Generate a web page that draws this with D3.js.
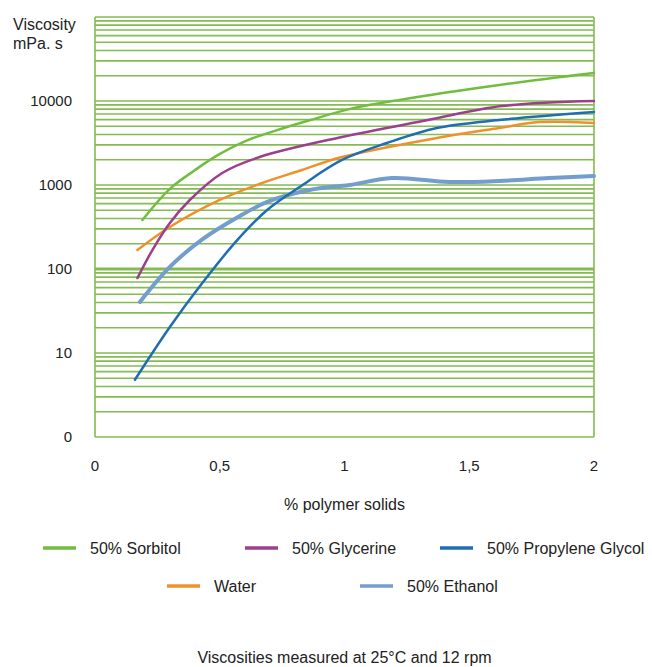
<!DOCTYPE html>
<html>
<head>
<meta charset="utf-8">
<script src="https://cdn.jsdelivr.net/npm/d3@7"></script>
<style>
  html, body { margin: 0; padding: 0; background: #fff; }
  svg { display: block; }
  text { font-family: "Liberation Sans", Arial, sans-serif; fill: #222; }
</style>
</head>
<body>
<svg id="chart" width="652" height="667"></svg>
<script>
// ---- data ----
const seriesNames = ["50% Sorbitol", "50% Glycerine", "50% Propylene Glycol", "Water", "50% Ethanol"];
const seriesColors = ["#72bd3f", "#9c3f8d", "#1f6db2", "#f0902c", "#729dcc"];

const sorbitolX = [0.19, 0.30, 0.40, 0.49, 0.61, 0.73, 0.86, 1.02, 1.22, 1.62, 2.0];
const sorbitolY = [383, 900, 1500, 2250, 3400, 4500, 5900, 8000, 10300, 15500, 21500];

const glycerineX = [0.17, 0.23, 0.30, 0.38, 0.51, 0.66, 0.99, 1.33, 1.63, 2.0];
const glycerineY = [78, 168, 353, 663, 1390, 2154, 3730, 5900, 8700, 10000];

const propyleneX = [0.16, 0.30, 0.43, 0.57, 0.69, 0.82, 0.99, 1.17, 1.37, 1.62, 2.0];
const propyleneY = [4.8, 20.4, 68, 221, 504, 946, 1985, 3160, 4770, 5940, 7400];

const waterX = [0.17, 0.30, 0.50, 0.67, 0.83, 0.99, 1.37, 1.62, 1.78, 2.0];
const waterY = [168, 316, 663, 1057, 1510, 2154, 3630, 4770, 5620, 5470];

const ethanolX = [0.18, 0.30, 0.43, 0.57, 0.69, 0.86, 1.02, 1.19, 1.42, 1.62, 1.82, 2.0];
const ethanolY = [40.5, 106, 225, 410, 628, 871, 1000, 1210, 1086, 1117, 1210, 1280];

const yTickValues = [1, 10, 100, 1000, 10000];
const yTickLabels = ["0", "10", "100", "1000", "10000"];
const xTickValues = [0, 0.5, 1, 1.5, 2];
const xTickLabels = ["0", "0,5", "1", "1,5", "2"];
const yTitle = ["Viscosity", "mPa. s"];
const xTitle = "% polymer solids";
const footnote = "Viscosities measured at 25°C and 12 rpm";

// ---- chart ----
const svg = d3.select("#chart");
const x = d3.scaleLinear().domain([0, 2]).range([95, 594]);
const y = d3.scaleLog().domain([1, 100000]).range([437, 17]);
const gridColor = "#84bb52";
const midX = (x(0) + x(2)) / 2;

// horizontal log grid
const gridVals = [];
for (let k = 0; k < 5; k++) for (let m = 1; m <= 9; m++) gridVals.push(m * Math.pow(10, k));
gridVals.push(100000);
svg.append("g").selectAll("line").data(gridVals).join("line")
  .attr("x1", x(0)).attr("x2", x(2))
  .attr("y1", d => y(d)).attr("y2", d => y(d))
  .attr("stroke", gridColor)
  .attr("stroke-width", d => d === 100 ? 3 : 1.6);

// vertical borders
svg.append("g").selectAll("line").data([0, 2]).join("line")
  .attr("x1", d => x(d)).attr("x2", d => x(d))
  .attr("y1", y(100000)).attr("y2", y(1))
  .attr("stroke", gridColor).attr("stroke-width", 1.6);

// y tick labels
svg.append("g").selectAll("text").data(yTickValues).join("text")
  .attr("x", 72).attr("y", d => y(d)).attr("dy", "0.35em")
  .attr("text-anchor", "end").attr("font-size", 15)
  .text((d, i) => yTickLabels[i]);

// y title
svg.append("g").selectAll("text").data(yTitle).join("text")
  .attr("x", 13).attr("y", (d, i) => 30 + i * 19)
  .attr("font-size", 16)
  .text(d => d);

// x tick labels
svg.append("g").selectAll("text").data(xTickValues).join("text")
  .attr("x", d => x(d)).attr("y", 471)
  .attr("text-anchor", "middle").attr("font-size", 15)
  .text((d, i) => xTickLabels[i]);

// x title
svg.append("text").attr("x", midX).attr("y", 510)
  .attr("text-anchor", "middle").attr("font-size", 16).text(xTitle);

// series lines
const seriesData = [
  d3.zip(sorbitolX, sorbitolY),
  d3.zip(glycerineX, glycerineY),
  d3.zip(propyleneX, propyleneY),
  d3.zip(waterX, waterY),
  d3.zip(ethanolX, ethanolY)
];
const widths = [2.5, 2.5, 2.5, 2.5, 4];
const line = d3.line().x(d => x(d[0])).y(d => y(d[1])).curve(d3.curveCatmullRom.alpha(0.5));
const drawOrder = [3, 4, 0, 1, 2];
svg.append("g").selectAll("path").data(drawOrder).join("path")
  .attr("d", i => line(seriesData[i]))
  .attr("fill", "none")
  .attr("stroke", i => seriesColors[i])
  .attr("stroke-width", i => widths[i])
  .attr("stroke-linecap", "round")
  .attr("stroke-linejoin", "round");

// legend
const legendPos = [[43, 548], [245, 548], [440, 548], [167, 586], [360, 586]];
const lg = svg.append("g").selectAll("g").data(seriesNames).join("g")
  .attr("transform", (d, i) => `translate(${legendPos[i][0]},${legendPos[i][1]})`);
lg.append("line").attr("x1", 0).attr("x2", 33).attr("y1", 0).attr("y2", 0)
  .attr("stroke", (d, i) => seriesColors[i]).attr("stroke-width", 3.5);
lg.append("text").attr("x", 47).attr("y", 0).attr("dy", "0.35em")
  .attr("font-size", 16).text(d => d);

// footnote
svg.append("text").attr("x", midX).attr("y", 657).attr("dy", "0.35em")
  .attr("text-anchor", "middle").attr("font-size", 16).text(footnote);
</script>
</body>
</html>
